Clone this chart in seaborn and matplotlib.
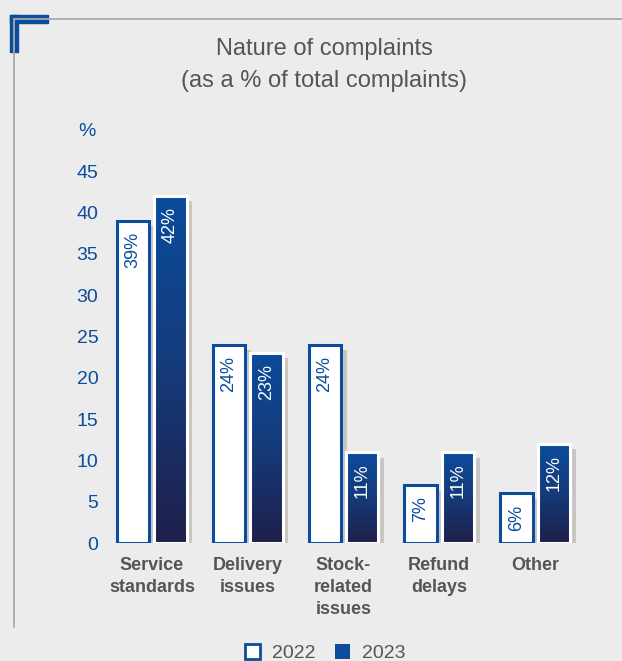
import numpy as np
import pandas as pd
import matplotlib
matplotlib.use("Agg")
import matplotlib.pyplot as plt
import matplotlib.patheffects as pe
from matplotlib.colors import LinearSegmentedColormap
from matplotlib.lines import Line2D
from matplotlib.patches import Rectangle
import seaborn as sns

# Complaint categories and share of total complaints (%)
categories = ["Service\nstandards", "Delivery\nissues", "Stock-\nrelated\nissues",
              "Refund\ndelays", "Other"]
values_2022 = [39, 24, 24, 7, 6]
values_2023 = [42, 23, 11, 11, 12]
years = ["2022", "2023"]
y_ticks = [0, 5, 10, 15, 20, 25, 30, 35, 40, 45]

BG = "#ececec"
BLUE = "#0b4c9c"
NAVY = "#1f1f4a"
GREY_TXT = "#555555"
FRAME = "#aaaaaa"

df = pd.DataFrame({
    "category": categories * 2,
    "year": [years[0]] * len(categories) + [years[1]] * len(categories),
    "value": values_2022 + values_2023,
})

sns.set_theme(style="white")
plt.rcParams["font.family"] = ["Liberation Sans", "DejaVu Sans"]

W, H = 622, 661
fig = plt.figure(figsize=(W / 100, H / 100), dpi=100, facecolor=BG)

# plot area in pixel coordinates
left, right, bottom, top = 104, 583, 543, 171
ax = fig.add_axes([left / W, 1 - bottom / H, (right - left) / W, (bottom - top) / H])
ax.set_facecolor("none")

sns.barplot(data=df, x="category", y="value", hue="year", order=categories,
            hue_order=years, palette=["white", BLUE], width=0.78, gap=0.13,
            legend=False, ax=ax, zorder=3)

ax.set_xlim(-0.5, 4.5)
ax.set_ylim(0, 45)

n = len(categories)
bars_2022 = ax.patches[:n]
bars_2023 = ax.patches[n:2 * n]

shadow = [pe.SimplePatchShadow(offset=(4, -4), shadow_rgbFace="#c9c5c5", alpha=1.0),
          pe.Normal()]

grad = LinearSegmentedColormap.from_list("bar_grad", [NAVY, "#153a7a", BLUE])
gradient = np.linspace(0, 1, 256).reshape(-1, 1)

for bar in bars_2022:
    bar.set_facecolor("white")
    bar.set_edgecolor(BLUE)
    bar.set_linewidth(2.2)
    bar.set_path_effects(shadow)

for bar in bars_2023:
    bar.set_facecolor(BLUE)
    bar.set_edgecolor("white")
    bar.set_linewidth(2.2)
    bar.set_path_effects(shadow)
    x0, y0 = bar.get_x(), bar.get_y()
    w, h = bar.get_width(), bar.get_height()
    img = ax.imshow(gradient, cmap=grad, aspect="auto", origin="lower",
                    extent=[x0, x0 + w, y0, y0 + h], zorder=3.5, interpolation="bilinear")
    clip = Rectangle((x0, y0), w, h, transform=ax.transData)
    img.set_clip_path(clip)
    # white outline on top of the gradient
    ax.add_patch(Rectangle((x0, y0), w, h, facecolor="none", edgecolor="white",
                           linewidth=2.2, zorder=3.6))

ax.set_xlim(-0.5, 4.5)
ax.set_ylim(0, 45)

# value labels inside bars, rotated
for bars, vals, col in [(bars_2022, values_2022, BLUE), (bars_2023, values_2023, "white")]:
    for bar, v in zip(bars, vals):
        cx = bar.get_x() + bar.get_width() / 2
        ax.annotate(f"{v}%", xy=(cx, v), xytext=(0, -8), textcoords="offset points",
                    rotation=90, ha="center", va="top", color=col, fontsize=13,
                    zorder=5)

ax.set_yticks(y_ticks)
ax.set_yticklabels([str(t) for t in y_ticks], color=BLUE, fontsize=14)
ax.tick_params(axis="y", length=0, pad=4)
ax.tick_params(axis="x", length=0, pad=10)
for lbl in ax.get_xticklabels():
    lbl.set_fontweight("bold")
    lbl.set_color(GREY_TXT)
    lbl.set_fontsize(13)
    lbl.set_linespacing(1.38)
ax.set_xlabel("")
ax.set_ylabel("")
for s in ax.spines.values():
    s.set_visible(False)
ax.grid(False)

# "%" unit above the axis
fig.text(87 / W, 1 - 131 / H, "%", color=BLUE, fontsize=14, ha="center", va="center")

# title
fig.text(324 / W, 1 - 48 / H, "Nature of complaints", color=GREY_TXT, fontsize=17,
         ha="center", va="baseline", position=(324 / W, 1 - 55 / H))
fig.text(324 / W, 1 - 87 / H, "(as a % of total complaints)", color=GREY_TXT,
         fontsize=17, ha="center", va="baseline")

# frame lines and corner accent
fig.add_artist(Line2D([14 / W, 1], [1 - 19 / H] * 2, color=FRAME, lw=1.3))
fig.add_artist(Line2D([13.5 / W] * 2, [1 - 19 / H, 1 - 627 / H], color=FRAME, lw=1.3))
fig.add_artist(Rectangle((10 / W, 1 - 23 / H), 38 / W, 8 / H, color=BLUE,
                         transform=fig.transFigure))
fig.add_artist(Rectangle((10 / W, 1 - 52 / H), 8 / W, 37 / H, color=BLUE,
                         transform=fig.transFigure))

# legend
handles = [
    Rectangle((0, 0), 1, 1, facecolor="white", edgecolor=BLUE, linewidth=2),
    Rectangle((0, 0), 1, 1, facecolor=BLUE, edgecolor=BLUE, linewidth=0),
]
fig.legend(handles, years, loc="center", bbox_to_anchor=(325 / W, 1 - 653 / H),
           ncol=2, frameon=False, fontsize=14, labelcolor=GREY_TXT,
           handlelength=0.8, handleheight=0.8, columnspacing=1.0, handletextpad=0.6)

fig.savefig("out.png", dpi=100, facecolor=BG)
